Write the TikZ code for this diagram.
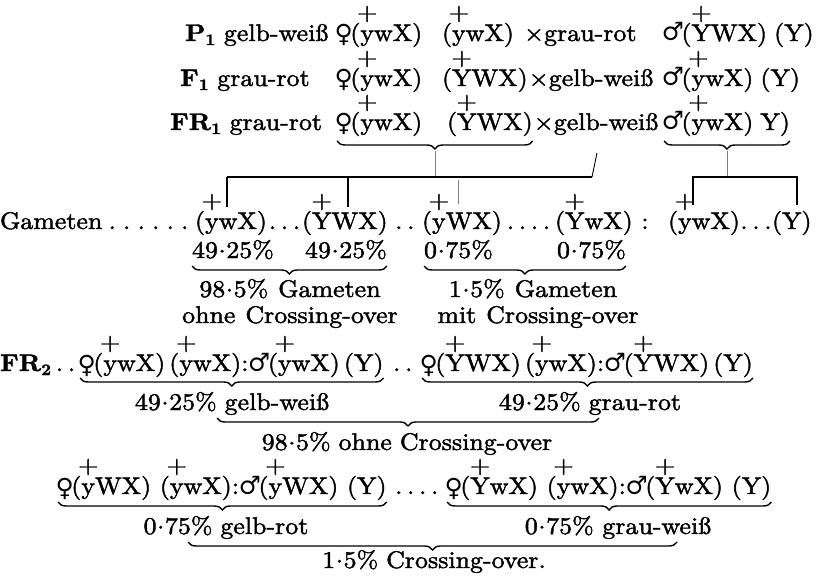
\documentclass[tikz,border=0pt]{standalone}
\usepackage{fontspec}
\setmainfont{lmroman10-regular}[Extension=.otf, BoldFont=lmroman10-bold, FakeStretch=1.08, FakeBold=1.8]
\newfontfamily\symf{DejaVu Serif}
\usetikzlibrary{decorations.pathreplacing,calc}
\newcount\dcnt
\newcommand\dtsw[2]{\dcnt=0 \loop\ifnum\dcnt<#1 \advance\dcnt by 1 \hbox to #2{\hss.\hss}\repeat}
\newcommand\dts[1]{\dtsw{#1}{12pt}}
\newcommand\md{\kern0.6pt\raisebox{5.5pt}{.}\kern0.6pt}
\newcommand\fe{\raisebox{-2pt}{\symf\fontsize{25}{25}\selectfont\kern-2.5pt ♀\kern-2.5pt}}
\newcommand\ma{{\symf\fontsize{25}{25}\selectfont\kern-2.5pt ♂\kern-2.5pt}}
\newcommand\pl[1]{\setbox0=\hbox{#1}\rlap{\hbox to\wd0{\hss\raisebox{21pt}{+}\hss}}\box0}
\newcommand\lab[2]{\textbf{#1}\raisebox{-4pt}{\fontsize{16}{16}\selectfont\bfseries #2}}
\begin{document}
\begin{tikzpicture}[x=1pt,y=-1pt,
  every node/.style={font=\fontsize{24}{28}\selectfont, inner sep=0pt, outer sep=0pt},
  t/.style={anchor=base west},
  tc/.style={anchor=base},
  brc/.style={decorate, decoration={brace, mirror, amplitude=8pt}, line width=1.4pt},
  thinline/.style={gray, line width=0.6pt},
  boldline/.style={black, line width=1.2pt}]
\useasboundingbox (0,0) rectangle (824,580);

% ---- top block
\node[t] (lab1) at (185,41) {\lab{P}{1} gelb-weiß};
\node[t] (fa1) at (337,41) {\fe(\pl{y}wX)};
\node[t] (fb1) at (442,41) {(\pl{y}wX)};
\node[t] (x1) at (524,41) {×grau-rot};
\node[t] (ma1) at (664,41) {\ma(\pl{Y}WX)};
\node[t] (mb1) at ([xshift=7pt]ma1.base east) {(Y)};

\node[t] (lab2) at (180,86) {\lab{F}{1} grau-rot};
\node[t] (fa2) at (337,86) {\fe(\pl{y}wX)};
\node[t] (fb2) at (442,86) {(\pl{Y}WX)};
\node[t] (x2) at ([xshift=1pt]fb2.base east) {×gelb-weiß};
\node[t] (ma2) at (664,86) {\ma(\pl{y}wX)};
\node[t] (mb2) at ([xshift=7pt]ma2.base east) {(Y)};

\node[t] (lab3) at (170,130) {\lab{FR}{1} grau-rot};
\node[t] (fa3) at (337,130) {\fe(\pl{y}wX)};
\node[t] (fb3) at (447,130) {(\pl{Y}WX)};
\node[t] (x3) at ([xshift=1pt]fb3.base east) {×gelb-weiß};
\node[t] (ma3) at (664,130) {\ma(\pl{y}wX)};
\node[t] (mb3) at ([xshift=7pt]ma3.base east) {Y)};

\coordinate (T1) at (0,141);
\draw[brc] (fa3.west |- T1) -- (fb3.east |- T1);
\draw[brc] (ma3.west |- T1) -- (mb3.east |- T1);

% ---- connecting lines
\coordinate (tl0) at ($(fa3.west)!0.5!(fb3.east)$);
\coordinate (T2) at (0,151);
\coordinate (tl) at (tl0 |- T2);
\coordinate (hlL) at (227,177);
\coordinate (hlR) at (592,177);
\coordinate (sl) at (597,153);
\coordinate (hl) at (tl |- hlL);
\draw[thinline] (tl) -- (hl);
\draw[boldline] (hlL) -- (hlR);
\draw[line width=0.9pt] (hlR) -- (sl);
\coordinate (tkA) at (227,207);
\coordinate (tkB0) at (348,177);
\coordinate (tkB) at (348,207);
\coordinate (tkC0) at (458,180);
\coordinate (tkC) at (458,204);
\draw[boldline] (hlL) -- (tkA);
\draw[boldline] (tkB0) -- (tkB);
\draw[thinline] (tkC0) -- (tkC);

\coordinate (tr0) at ($(ma3.west)!0.5!(mb3.east)$);
\coordinate (tr) at (tr0 |- T2);
\coordinate (hrL) at (693,177);
\coordinate (hrR) at (797,177);
\coordinate (hr) at (tr |- hrL);
\coordinate (tkD) at (693,205);
\coordinate (tkE) at (797,205);
\draw[thinline] (tr) -- (hr);
\draw[boldline] (tkD) -- (hrL) -- (hrR) -- (tkE);

% ---- gametes
\node[t] (gam) at (0,229) {Gameten};
\node[t] (gA) at (195,229) {(\pl{y}wX)};
\node[t] (gB) at (302,229) {(\pl{Y}WX)};
\node[t] (gC) at (422,229) {(\pl{y}WX)};
\node[t] (gD) at (555,229) {(\pl{Y}wX)};
\node[tc] (col) at (645,229) {:};
\node[t] (gE) at (668,229) {(\pl{y}wX)};
\node[t] (gF) at (772,229) {(Y)};
\node[anchor=base east] (d0) at ([xshift=-3pt]gA.base west) {\dtsw{6}{14.5pt}};
\node[tc] (d1) at ($(gA.base east)!0.5!(gB.base west)$) {\dts{3}};
\node[tc] (d2) at ($(gB.base east)!0.5!(gC.base west)$) {\dts{2}};
\node[tc] (d3) at ($(gC.base east)!0.5!(gD.base west)$) {\dts{4}};
\node[tc] (d4) at ($(gE.base east)!0.5!(gF.base west)$) {\dts{3}};

\node[t] (p1) at (192,258) {49\md25\%};
\node[t] (p2) at (305,258) {49\md25\%};
\node[t] (p3) at (424,258) {0\md75\%};
\node[t] (p4) at (557,258) {0\md75\%};
\coordinate (P1) at (0,266);
\draw[brc] (p1.west |- P1) -- (p2.east |- P1);
\draw[brc] (p3.west |- P1) -- (p4.east |- P1);
\node[tc] (q1) at (290,297) {98\md5\%\hspace{10pt}Gameten};
\node[tc] (q2) at (290,323) {ohne\hspace{10pt}Crossing-over};
\node[tc] (q3) at (533,297) {1\md5\%\hspace{10pt}Gameten};
\node[tc] (q4) at (538,323) {mit\hspace{10pt}Crossing-over};

% ---- FR2
\node[t] (fr2) at (0,371) {\lab{FR}{2}};
\node[t] (h1) at (80,371) {\fe(\pl{y}wX)\hspace{4pt}(\pl{y}wX):\hspace{2pt}\ma(\pl{y}wX)\hspace{4pt}(Y)};
\node[t] (h2) at (422,371) {\fe(\pl{Y}WX)\hspace{4pt}(\pl{y}wX):\hspace{2pt}\ma(\pl{Y}WX)\hspace{4pt}(Y)};
\node[tc] (e0) at ($(fr2.base east)!0.5!(h1.base west)$) {\dts{2}};
\node[tc] (e1) at ($(h1.base east)!0.5!(h2.base west)$) {\dts{2}};
\coordinate (B3) at (0,378);
\draw[brc] (h1.west |- B3) -- (h1.east |- B3);
\draw[brc] (h2.west |- B3) -- (h2.east |- B3);
\node[tc] (r1) at (232,410) {49\md25\%\hspace{8pt}gelb-weiß};
\node[tc] (r2) at (590,410) {49\md25\%\hspace{8pt}grau-rot};
\coordinate (b4a) at (217,418);
\coordinate (b4b) at (599,418);
\draw[brc] (b4a) -- (b4b);
\node[tc] (r3) at (407,450) {98\md5\%\hspace{8pt}ohne\hspace{8pt}Crossing-over};

% ---- row 5
\node[t] (k1) at (58,494) {\fe(\pl{y}WX) (\pl{y}wX):\hspace{2pt}\ma(\pl{y}WX) (Y)};
\node[t] (k2) at (447,494) {\fe(\pl{Y}wX) (\pl{y}wX):\hspace{2pt}\ma(\pl{Y}wX) (Y)};
\node[tc] (e2) at ($(k1.base east)!0.5!(k2.base west)$) {\dts{4}};
\coordinate (B5) at (0,502);
\draw[brc] (k1.west |- B5) -- (k1.east |- B5);
\draw[brc] (k2.west |- B5) -- (k2.east |- B5);
\node[tc] (s1) at (226,534) {0\md75\%\hspace{8pt}gelb-rot};
\node[tc] (s2) at (618,534) {0\md75\% grau-weiß};
\coordinate (b6a) at (188,542);
\coordinate (b6b) at (677,542);
\draw[brc] (b6a) -- (b6b);
\node[tc] (s3) at (434,568) {1\md5\%\hspace{8pt}Crossing-over.};
\end{tikzpicture}
\end{document}
